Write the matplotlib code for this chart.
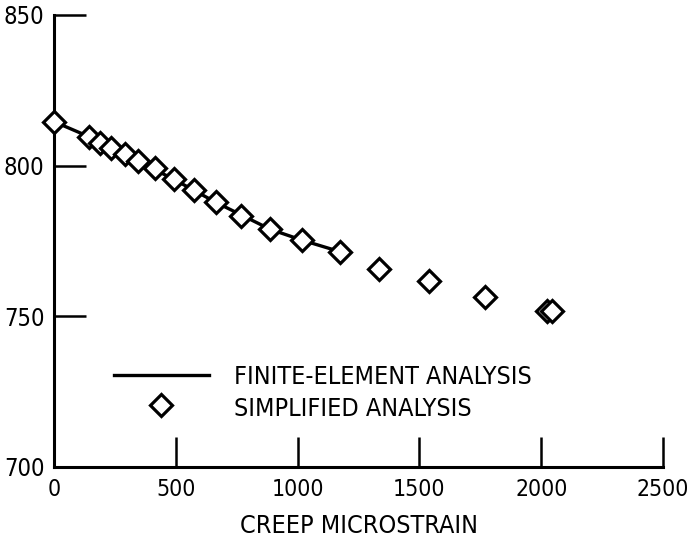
import matplotlib.pyplot as plt

# simplified analysis points
simp_x = [0, 144, 188, 233, 292, 345, 415, 491, 573, 665, 768, 887, 1017, 1176,
          1336, 1539, 1768, 2022, 2045]
simp_y = [814.6, 809.6, 807.4, 805.8, 803.8, 801.5, 799.3, 795.5, 791.9, 787.8,
          783.3, 778.9, 775.3, 771.4, 765.7, 761.7, 756.3, 751.9, 751.9]

# finite-element curve
fe_x = [0, 144, 233, 345, 491, 665, 887, 1017, 1176]
fe_y = [814.6, 809.6, 805.8, 801.5, 795.5, 787.8, 778.9, 775.3, 771.4]

x_ticks = [0, 500, 1000, 1500, 2000, 2500]
y_ticks = [700, 750, 800, 850]

plt.rcParams['font.family'] = ['DejaVu Sans']
plt.rcParams['font.stretch'] = 'condensed'

fig = plt.figure(figsize=(6.88, 5.41), dpi=100)
ax = fig.add_axes([0.0785, 0.1368, 0.8852, 0.8355])

ax.plot(fe_x, fe_y, color='black', lw=2.4)
ax.plot(simp_x, simp_y, 'D', ms=11.5, mfc='white', mec='black', mew=2.3,
        clip_on=False, zorder=3)

ax.set_xlim(0, 2500)
ax.set_ylim(700, 850)
ax.set_xticks(x_ticks)
ax.set_yticks(y_ticks)
ax.tick_params(direction='in', width=1.8, labelsize=17)
ax.tick_params(axis='y', length=23, pad=7)
ax.tick_params(axis='x', length=21.5, pad=8, labelsize=16.5)
ax.spines['top'].set_visible(False)
ax.spines['right'].set_visible(False)
for s in ['left', 'bottom']:
    ax.spines[s].set_linewidth(2.2)
ax.patch.set_alpha(0)

ax.set_xlabel('CREEP MICROSTRAIN', fontsize=18, labelpad=9)

# legend drawn by hand like the scan
ax.plot([247, 637], [730.5, 730.5], color='black', lw=2.4, clip_on=False)
ax.plot([439], [720.6], 'D', ms=11.5, mfc='white', mec='black', mew=2.3)
ax.text(740, 729.7, 'FINITE-ELEMENT ANALYSIS', fontsize=18, va='center')
ax.text(740, 719.4, 'SIMPLIFIED ANALYSIS', fontsize=18, va='center')

fig.savefig('out.png', dpi=100)
